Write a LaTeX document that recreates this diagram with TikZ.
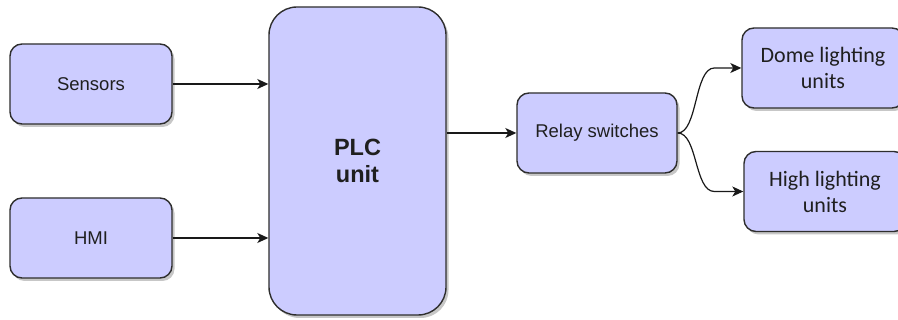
\documentclass[tikz,border=0pt]{standalone}
\usepackage{fontspec}
\setmainfont{Liberation Sans}
\newfontfamily\calibri{Carlito}
\usetikzlibrary{arrows.meta,shadows,calc}
\definecolor{boxfill}{HTML}{CCCCFF}
\definecolor{boxline}{HTML}{2E2E2E}
\begin{document}
\begin{tikzpicture}[x=1pt,y=-1pt,
  block/.style={draw=boxline, line width=1.4pt, fill=boxfill, rounded corners=12pt,
    drop shadow={shadow xshift=2.5pt, shadow yshift=-3pt, fill=black, opacity=0.22},
    inner sep=0pt, align=center, text=black!88,
    minimum width=162pt, minimum height=80pt},
  arial/.style={font=\fontsize{18.5}{22}\selectfont},
  calib/.style={font=\calibri\fontsize{22}{26}\selectfont},
  flow/.style={draw=black!90, line width=1.2pt, -{Stealth[length=11pt,width=10pt,inset=3pt]}},
]
\clip (0,0) rectangle (898,320);
\fill[white] (0,0) rectangle (898,320);

% input devices
\node[block, arial] (sensors) at (91,84) {Sensors};
\node[block, arial] (hmi) at (91,238) {HMI};

% controller
\node[block, minimum width=177pt, minimum height=308pt, rounded corners=28pt,
  font=\bfseries\fontsize{23.5}{27}\selectfont] (plc) at (357.5,161) {PLC\\unit};

% outputs
\node[block, arial, minimum width=160pt] (relay) at (597,133) {Relay switches};
\node[block, calib] (dome) at (823,68) {Dome lighting\\units};
\node[block, calib] (high) at (825,191.5) {High lighting\\units};

% signal flow
\draw[flow] (sensors.east) -- (sensors.east -| plc.west);
\draw[flow] (hmi.east) -- (hmi.east -| plc.west);
\draw[flow] (plc.east |- relay.west) -- (relay.west);

\coordinate (domein) at ($(dome.west)+(-27,0)$);
\coordinate (highin) at ($(high.west)+(-29,0)$);
\draw[flow] (relay.east) .. controls +(20,0) and +(-20,0) .. (domein) -- (dome.west);
\draw[flow] (relay.east) .. controls +(20,0) and +(-20,0) .. (highin) -- (high.west);
\end{tikzpicture}
\end{document}
